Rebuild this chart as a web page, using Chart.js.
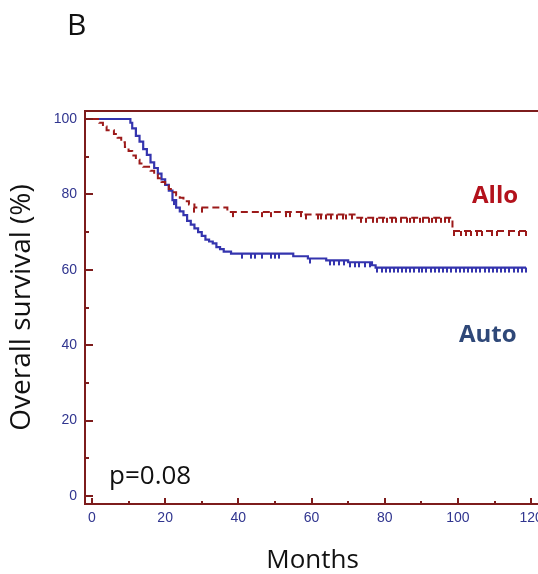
<!DOCTYPE html>
<html><head><meta charset="utf-8">
<script src="https://cdn.jsdelivr.net/npm/chart.js@4/dist/chart.umd.min.js"></script>
<style>
html,body{margin:0;padding:0;overflow:hidden;background:#fff;width:538px;height:574px}
#wrap{position:relative;width:549px;height:574px}
canvas{display:block}
</style></head>
<body><div id="wrap"><canvas id="c" width="549" height="574"></canvas></div>
<script>
// ---- Data (Kaplan-Meier steps) ----
const autoTimes = [0, 10.5, 11, 12, 13, 14, 15, 16, 17, 18, 19, 20, 21, 22, 23, 24, 25, 26, 27, 28, 29, 30, 31, 32, 33, 34, 35, 36, 38, 55, 59, 64, 70, 76.5, 77.5, 118.6];
const autoSurv  = [100, 99, 97.5, 95.5, 94, 92, 90.5, 88.5, 87, 85.5, 84, 82.5, 81, 78.5, 76.5, 75.5, 74.5, 73, 72, 71, 70, 69, 68, 67.5, 67, 66, 65.5, 64.8, 64.3, 63.6, 63.0, 62.5, 62.0, 61.2, 60.6, 60.6];
const alloTimes = [0, 2, 3, 4, 6, 7, 8, 9, 10, 11, 12, 13, 14, 16, 17, 18, 19, 20, 21, 22, 23, 24, 25, 26.5, 28, 37, 58, 72.5, 98.5, 119];
const alloSurv  = [100, 99, 98, 97, 96, 95, 93.8, 92.6, 91.5, 90.3, 89.2, 88.2, 87.3, 86.3, 85.3, 84.3, 83.3, 82.3, 81.4, 80.6, 79.8, 79.1, 78.2, 77.3, 76.5, 75.3, 74.7, 73.8, 70.3, 70.3];
const autoCensor = [22.5, 41, 43.5, 44.5, 46.5, 49, 50, 51, 59.5, 65, 66, 67.5, 69, 70.5, 72, 73, 74.5, 76, 78, 79.2, 80.3, 81.5, 82.4, 83.6, 84.7, 85.8, 87, 88.1, 89.3, 90.2, 91.4, 92.6, 93.7, 94.8, 96, 97.1, 98.2, 99.4, 100.5, 101.6, 102.8, 103.9, 105, 106.1, 107.3, 108.4, 109.5, 110.7, 111.8, 112.9, 114, 115.2, 116.3, 117.4, 118.5];
const alloCensor = [28, 30, 38.5, 46.5, 49, 53, 54, 57, 58.5, 61.7, 62.7, 64, 65.4, 67, 68.5, 69.5, 71, 73.6, 75, 76.7, 78, 79.5, 80.5, 82, 83, 84.5, 86, 87, 88, 89.5, 90.5, 92, 93, 94, 95.5, 96.5, 97.5, 99, 100.9, 102.3, 103.6, 105.3, 106.6, 109.4, 110.7, 114, 116.7, 118.6];
const xTicks = [0, 20, 40, 60, 80, 100, 120];
const yTicks = [0, 20, 40, 60, 80, 100];
const seriesNames = ['Allo', 'Auto'];

// ---- helpers ----
function toXY(t, s) { return t.map((v, i) => ({x: v, y: s[i]})); }
function survAt(t, s, x) { let v = s[0]; for (let i = 0; i < t.length; i++) { if (t[i] <= x) v = s[i]; } return v; }
function censorPts(c, t, s) { return c.map(x => ({x: x, y: survAt(t, s, x)})); }
function tickMark(color) {
  const cv = document.createElement('canvas'); cv.width = 2; cv.height = 12;
  const g = cv.getContext('2d'); g.fillStyle = color; g.fillRect(0, 6, 2, 5);
  return cv;
}

const FRAME = '#7d1c1c';
const AUTO_C = '#3434ae';
const ALLO_C = '#9c1a1a';
const LABEL_C = '#30358f';

const decor = {
  id: 'decor',
  afterDraw(chart) {
    const {ctx, chartArea: a, scales: {x, y}} = chart;
    ctx.save();
    ctx.strokeStyle = FRAME; ctx.lineWidth = 2;
    ctx.beginPath(); ctx.moveTo(a.left - 1, a.top); ctx.lineTo(a.right, a.top); ctx.stroke();
    // inward tick marks
    ctx.beginPath();
    for (let v = 0; v <= 100; v += 10) {
      const py = Math.round(y.getPixelForValue(v));
      const len = v % 20 === 0 ? 8 : 4;
      ctx.moveTo(a.left, py); ctx.lineTo(a.left + len, py);
    }
    for (let v = 0; v <= 120; v += 10) {
      const px = Math.round(x.getPixelForValue(v));
      const len = v % 20 === 0 ? 6 : 3;
      ctx.moveTo(px, a.bottom); ctx.lineTo(px, a.bottom - len);
    }
    ctx.stroke();
    // texts
    ctx.textBaseline = 'alphabetic'; ctx.textAlign = 'left';
    ctx.fillStyle = '#111';
    ctx.font = '30px "Open Sans"';
    ctx.fillText('B', 67, 35);
    ctx.font = '26px "Open Sans"';
    ctx.fillText('p=0.08', 109, 484);
    ctx.font = 'bold 24px "Open Sans"';
    ctx.fillStyle = '#b3121c';
    ctx.fillText(seriesNames[0], 472, 203);
    ctx.fillStyle = '#2f4878';
    ctx.fillText(seriesNames[1], 459, 342);
    ctx.restore();
  }
};

new Chart(document.getElementById('c'), {
  type: 'line',
  data: {
    datasets: [
      {label: 'Allo', data: toXY(alloTimes, alloSurv), borderColor: ALLO_C, borderWidth: 2, borderDash: [7, 4], stepped: 'before', pointRadius: 0, fill: false},
      {label: 'Auto', data: toXY(autoTimes, autoSurv), borderColor: AUTO_C, borderWidth: 2.2, stepped: 'before', pointRadius: 0, fill: false},
      {label: 'Allo censored', data: censorPts(alloCensor, alloTimes, alloSurv), showLine: false, pointStyle: tickMark(ALLO_C), pointRadius: 3},
      {label: 'Auto censored', data: censorPts(autoCensor, autoTimes, autoSurv), showLine: false, pointStyle: tickMark(AUTO_C), pointRadius: 3}
    ]
  },
  options: {
    responsive: false,
    animation: false,
    devicePixelRatio: 1,
    layout: {padding: {top: 111, right: 8, left: 0, bottom: 0}},
    plugins: {legend: {display: false}, tooltip: {enabled: false}},
    scales: {
      x: {
        type: 'linear', min: -1.9, max: 122.45,
        grid: {display: false, drawTicks: false, tickLength: 0},
        border: {display: true, color: FRAME, width: 2},
        afterBuildTicks: s => { s.ticks = xTicks.map(v => ({value: v})); },
        afterFit: s => { s.height = 70; },
        ticks: {color: LABEL_C, font: {family: 'Liberation Sans', size: 14}, padding: 6, maxRotation: 0},
        title: {display: true, text: 'Months', color: '#111', font: {family: 'Open Sans', size: 26, lineHeight: 1}, padding: {top: 0, bottom: 0}}
      },
      y: {
        type: 'linear', min: -2.12, max: 102.12,
        grid: {display: false, drawTicks: false, tickLength: 0},
        border: {display: true, color: FRAME, width: 2},
        afterBuildTicks: s => { s.ticks = yTicks.map(v => ({value: v})); },
        afterFit: s => { s.width = 85; },
        ticks: {color: LABEL_C, font: {family: 'Liberation Sans', size: 14}, padding: 8},
        title: {display: true, text: 'Overall survival (%)', color: '#111', font: {family: 'Open Sans', size: 28, lineHeight: 1}, padding: {top: 8, bottom: 0}}
      }
    }
  },
  plugins: [decor]
});
</script>
</body></html>
